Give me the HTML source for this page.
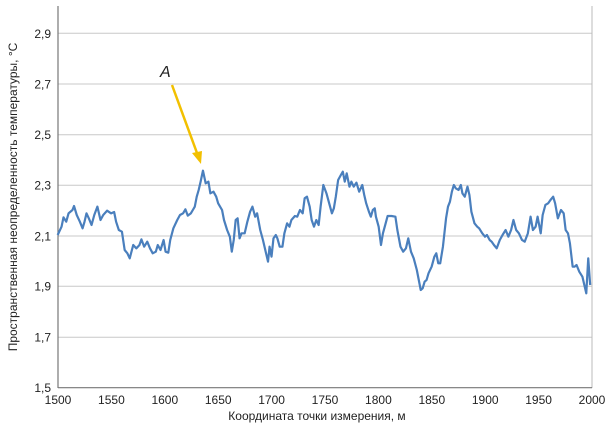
<!DOCTYPE html>
<html><head><meta charset="utf-8"><style>
html,body{margin:0;padding:0;background:#fff}
svg{display:block}
text{font-family:"Liberation Sans",Arial,sans-serif;fill:#222}
</style></head><body>
<svg width="610" height="425" viewBox="0 0 610 425" xmlns="http://www.w3.org/2000/svg">
<rect width="610" height="425" fill="#fff"/>
<g stroke="#c8c8c8" stroke-width="1">
<line x1="58" x2="592" y1="33.3" y2="33.3"/>
<line x1="58" x2="592" y1="84" y2="84"/>
<line x1="58" x2="592" y1="134.7" y2="134.7"/>
<line x1="58" x2="592" y1="185.3" y2="185.3"/>
<line x1="58" x2="592" y1="236" y2="236"/>
<line x1="58" x2="592" y1="286.3" y2="286.3"/>
<line x1="58" x2="592" y1="337.3" y2="337.3"/>
</g>
<line x1="592" x2="592" y1="6" y2="388" stroke="#bbb"/>
<line x1="58" x2="58" y1="6" y2="388" stroke="#777" stroke-width="1.2"/>
<line x1="58" x2="592" y1="387.7" y2="387.7" stroke="#777" stroke-width="1.2"/>
<g font-size="12" text-anchor="end">
<text x="51" y="38">2,9</text><text x="51" y="88.5">2,7</text><text x="51" y="139">2,5</text>
<text x="51" y="189.5">2,3</text><text x="51" y="240.5">2,1</text><text x="51" y="290.5">1,9</text>
<text x="51" y="341.5">1,7</text><text x="51" y="392">1,5</text>
</g>
<g font-size="12" text-anchor="middle">
<text x="58" y="404">1500</text><text x="111.4" y="404">1550</text><text x="164.8" y="404">1600</text>
<text x="218.2" y="404">1650</text><text x="271.6" y="404">1700</text><text x="325" y="404">1750</text>
<text x="378.4" y="404">1800</text><text x="431.8" y="404">1850</text><text x="485.2" y="404">1900</text>
<text x="538.6" y="404">1950</text><text x="592" y="404">2000</text>
<text x="317" y="420">Координата точки измерения, м</text>
<text transform="translate(17,197) rotate(-90)">Пространственная неопределенность температуры, °С</text>
</g>
<text x="160" y="77" font-size="16" font-style="italic">A</text>
<line x1="172" y1="85" x2="197" y2="153" stroke="#f2c000" stroke-width="2.5"/>
<polygon points="192,153 202,151 201,164" fill="#f2c000"/>
<g transform="scale(0.38956,0.33333)">
<polyline fill="none" stroke="#4a7fbd" stroke-width="2.2" vector-effect="non-scaling-stroke" stroke-linejoin="round" points="148,705 158,680 163,652 170,665 176,640 186,630 190,618 197,645 205,665 212,685 217,665 222,640 228,655 235,675 242,645 250,620 258,660 265,645 275,632 285,640 293,636 298,665 305,690 313,695 320,750 327,760 333,775 342,735 350,745 358,735 363,718 370,740 378,725 385,745 392,760 400,755 405,735 412,750 420,720 425,755 432,758 437,720 445,685 455,660 462,645 470,640 476,628 482,647 490,640 495,630 500,620 505,590 510,570 515,545 521,512 528,550 535,545 540,580 548,575 555,590 560,610 565,620 570,630 575,660 583,690 590,710 595,755 600,720 605,660 610,655 615,715 620,700 628,700 635,665 642,635 648,620 655,650 660,640 668,690 675,720 683,760 688,785 692,740 697,770 702,715 708,705 712,715 718,740 725,740 730,700 737,670 743,680 748,660 757,648 763,650 770,630 777,640 782,595 788,590 795,620 800,660 806,680 812,660 818,675 823,620 830,555 838,580 845,610 852,640 857,625 862,590 868,540 875,525 880,515 885,545 890,520 897,560 902,545 908,560 915,548 922,575 930,555 935,585 940,610 947,635 952,650 957,630 962,625 965,650 972,680 978,735 983,700 990,670 995,648 1005,648 1015,650 1020,690 1028,740 1035,755 1042,745 1048,715 1055,755 1062,775 1070,810 1080,870 1085,865 1090,845 1095,840 1100,820 1108,800 1115,770 1120,760 1125,790 1130,790 1137,740 1145,655 1150,620 1155,605 1160,575 1165,555 1170,565 1177,570 1183,555 1187,580 1193,590 1200,560 1205,585 1210,635 1218,670 1225,680 1230,685 1238,700 1245,710 1250,705 1257,720 1262,725 1268,735 1275,745 1283,720 1290,705 1298,690 1305,710 1312,690 1318,660 1325,690 1332,700 1340,720 1347,725 1355,700 1362,650 1368,690 1375,680 1380,650 1388,700 1393,645 1400,615 1407,610 1413,600 1420,590 1425,610 1432,655 1440,630 1447,640 1452,690 1458,700 1463,730 1470,800 1475,800 1480,795 1487,815 1495,830 1500,855 1505,880 1510,775 1515,855"/>
</g>
</svg>
</body></html>
